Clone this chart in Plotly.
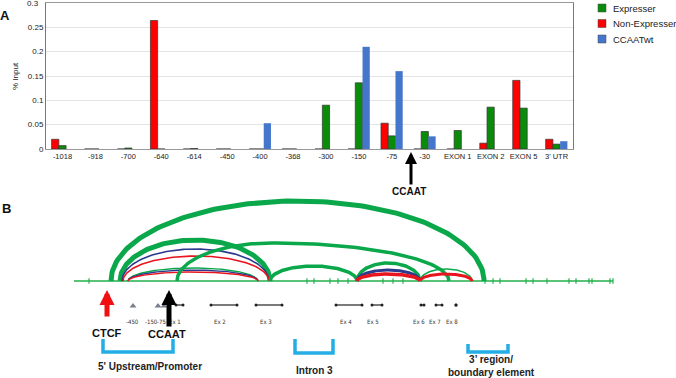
import numpy as np
import plotly.graph_objects as go

# ---------------- Panel A data ----------------
categories = ["-1018", "-918", "-700", "-640", "-614", "-450", "-400", "-368", "-300",
              "-150", "-75", "-30", "EXON 1", "EXON 2", "EXON 5", "3' UTR"]
non_expresser = [0.020, 0, 0, 0.264, 0, 0, 0, 0, 0, 0, 0.053, 0, 0, 0.012, 0.141, 0.020]
expresser = [0.007, 0, 0.002, 0, 0.001, 0, 0, 0, 0.090, 0.136, 0.027, 0.036, 0.038, 0.086, 0.084, 0.010]
ccaat_wt = [0, 0, 0, 0, 0, 0, 0.053, 0, 0, 0.210, 0.160, 0.026, 0, 0, 0, 0.016]
y_ticks = [0, 0.05, 0.1, 0.15, 0.2, 0.25, 0.3]
y_tick_labels = ["0", "0.05", "0.1", "0.15", "0.2", "0.25", "0.3"]
legend_names = ["Expresser", "Non-Expresser", "CCAATwt"]

# ---------------- Panel B data (schematic units) ----------------
gene_start, gene_end = 74, 613
baseline_ticks = [89, 307, 314, 330, 338, 348, 383, 393, 403, 485, 493, 500,
                  526, 533, 547, 569, 576, 589, 592, 610, 613]
arc_start = [111, 120, 122, 123, 128, 128, 128, 177, 270, 357, 357, 357, 420, 420]
arc_peak = [297, 195, 195, 196, 193, 193, 193, 272, 313, 388, 388, 388, 446, 446]
arc_end = [484, 270, 269, 269, 258, 258, 258, 449, 357, 420, 420, 420, 472, 472]
arc_height = [80, 41, 32, 25, 13, 11, 9, 38, 15, 18, 11, 7, 12, 7]
arc_color = ["G", "G", "B", "R", "G", "B", "R", "G", "G", "G", "B", "R", "G", "R"]
arc_width = [5, 5, 1.6, 1.6, 1.4, 1.4, 1.4, 3.5, 3.5, 3.5, 3, 3.5, 1.5, 3]
exon_names = ["Ex 1", "Ex 2", "Ex 3", "Ex 4", "Ex 5", "Ex 6", "Ex 7", "Ex 8"]
exon_start = [176, 211, 256, 336, 372, 421, 436, 456]
exon_end = [183, 237, 282, 362, 382, 424, 442, 456]
exon_label_x = [175, 220, 266, 346, 373, 419, 435, 452]
site_names = ["-450", "-150", "-75"]
site_x = [133, 158, 164]
site_label_x = [132, 151, 161]
region_names = ["5' Upstream/Promoter", "Intron 3", "3’ region/<br>boundary element"]
region_x0 = [103, 295, 468]
region_x1 = [173, 333, 508]
region_top = [339, 339, 344]
region_bottom = [352, 353, 352]
region_label_x = [150, 314, 491]
region_label_y = [366, 370, 366]

GREEN_BAR, RED_BAR, BLUE_BAR = "#0a8c0a", "#ff0000", "#4477cc"
ARC_COLORS = {"G": "#0aa84a", "B": "#2b3a8f", "R": "#e8141e"}
CYAN = "#23aee6"
FONT = "Liberation Sans, Arial, sans-serif"

fig = go.Figure()

# ---- bars ----
fig.add_trace(go.Bar(x=categories, y=non_expresser, name="Non-Expresser",
                     marker=dict(color=RED_BAR, line=dict(color="#333", width=0.7)),
                     showlegend=False, xaxis="x", yaxis="y"))
fig.add_trace(go.Bar(x=categories, y=expresser, name="Expresser",
                     marker=dict(color=GREEN_BAR, line=dict(color="#333", width=0.7)),
                     showlegend=False, xaxis="x", yaxis="y"))
fig.add_trace(go.Bar(x=categories, y=ccaat_wt, name="CCAATwt",
                     marker=dict(color=BLUE_BAR, line=dict(width=0)),
                     showlegend=False, xaxis="x", yaxis="y"))

# ---- manual legend (icons in schematic coordinates) ----
legend_colors = [GREEN_BAR, RED_BAR, BLUE_BAR]
legend_y = [8, 23.5, 39]
fig.add_trace(go.Scatter(x=[602] * 3, y=legend_y, mode="markers",
                         marker=dict(symbol="square", size=8, color=legend_colors,
                                     line=dict(color="#444", width=0.5)),
                         showlegend=False, hoverinfo="skip", xaxis="x2", yaxis="y2"))

# ---- schematic: baseline ----
fig.add_trace(go.Scatter(x=[gene_start, gene_end], y=[281, 281], mode="lines",
                         line=dict(color="#22b04a", width=1.3), showlegend=False,
                         hoverinfo="skip", xaxis="x2", yaxis="y2"))
fig.add_trace(go.Scatter(x=baseline_ticks, y=[281] * len(baseline_ticks), mode="markers",
                         marker=dict(symbol="line-ns", size=4, line=dict(color="#22b04a", width=1.2)),
                         showlegend=False, hoverinfo="skip", xaxis="x2", yaxis="y2"))

# ---- arcs ----
for s, p, e, h, c, w in zip(arc_start, arc_peak, arc_end, arc_height, arc_color, arc_width):
    t1 = np.linspace(np.pi, np.pi / 2, 60)
    t2 = np.linspace(np.pi / 2, 0, 60)
    xs = np.concatenate([p + (p - s) * np.cos(t1), p + (e - p) * np.cos(t2)])
    ys = np.concatenate([281 - h * np.sin(t1), 281 - h * np.sin(t2)])
    fig.add_trace(go.Scatter(x=xs, y=ys, mode="lines",
                             line=dict(color=ARC_COLORS[c], width=w), showlegend=False,
                             hoverinfo="skip", xaxis="x2", yaxis="y2"))

# ---- exons ----
for s, e in zip(exon_start, exon_end):
    fig.add_trace(go.Scatter(x=[s, e], y=[305, 305], mode="lines+markers",
                             line=dict(color="#333", width=1.3),
                             marker=dict(size=3, color="#222"), showlegend=False,
                             hoverinfo="skip", xaxis="x2", yaxis="y2"))
fig.add_trace(go.Scatter(x=site_x, y=[306] * len(site_x), mode="markers",
                         marker=dict(symbol="triangle-up", size=6, color="#7a7f8c"),
                         showlegend=False, hoverinfo="skip", xaxis="x2", yaxis="y2"))

# ---- region brackets ----
for x0, x1, yt, yb in zip(region_x0, region_x1, region_top, region_bottom):
    fig.add_trace(go.Scatter(x=[x0, x0, x1, x1], y=[yt, yb, yb, yt], mode="lines",
                             line=dict(color=CYAN, width=3.5), showlegend=False,
                             hoverinfo="skip", xaxis="x2", yaxis="y2"))

annotations = []
for name, y in zip(legend_names, legend_y):
    annotations.append(dict(x=611, y=y, xref="x2", yref="y2", text=name, showarrow=False,
                            xanchor="left", font=dict(family=FONT, size=9.5, color="#222")))
small_font = dict(family="Liberation Sans Narrow, DejaVu Sans Condensed, Arial", size=6, color="#333")
for name, x in zip(exon_names, exon_label_x):
    annotations.append(dict(x=x, y=321, xref="x2", yref="y2", text=name, showarrow=False, font=small_font))
for name, x in zip(site_names, site_label_x):
    annotations.append(dict(x=x, y=321, xref="x2", yref="y2", text=name, showarrow=False, font=small_font))
for name, x, y in zip(region_names, region_label_x, region_label_y):
    annotations.append(dict(x=x, y=y, xref="x2", yref="y2", text="<b>%s</b>" % name, showarrow=False,
                            font=dict(family=FONT, size=10, color="#222"), yanchor="middle"))

bold = dict(family=FONT, size=11, color="#111")
annotations += [
    dict(x=5, y=15, xref="x2", yref="y2", text="<b>A</b>", showarrow=False,
         font=dict(family=FONT, size=13, color="#111")),
    dict(x=6, y=208, xref="x2", yref="y2", text="<b>B</b>", showarrow=False,
         font=dict(family=FONT, size=13, color="#111")),
    dict(x=107, y=333, xref="x2", yref="y2", text="<b>CTCF</b>", showarrow=False, font=bold),
    dict(x=167, y=334, xref="x2", yref="y2", text="<b>CCAAT</b>", showarrow=False, font=bold),
    dict(x=409, y=191, xref="x2", yref="y2", text="<b>CCAAT</b>", showarrow=False,
         font=dict(family=FONT, size=10, color="#111")),
    dict(x=41, y=3, xref="x2", yref="y2", text="0.3", showarrow=False, xanchor="right",
         font=dict(family=FONT, size=8, color="#222")),
    # arrows
    dict(x=107, y=290, ax=107, ay=318, xref="x2", yref="y2", axref="x2", ayref="y2", text="",
         showarrow=True, arrowhead=2, arrowsize=0.6, arrowwidth=5, arrowcolor="#f01010"),
    dict(x=169, y=290, ax=169, ay=328, xref="x2", yref="y2", axref="x2", ayref="y2", text="",
         showarrow=True, arrowhead=2, arrowsize=0.6, arrowwidth=5, arrowcolor="#000"),
    dict(x=411, y=152, ax=411, ay=186, xref="x2", yref="y2", axref="x2", ayref="y2", text="",
         showarrow=True, arrowhead=2, arrowsize=0.8, arrowwidth=3, arrowcolor="#000"),
    dict(x=15, y=76, xref="x2", yref="y2", text="% Input", textangle=-90, showarrow=False,
         font=dict(family=FONT, size=8, color="#222")),
]

fig.update_layout(
    width=676, height=378,
    margin=dict(l=0, r=0, t=0, b=0, autoexpand=False),
    paper_bgcolor="white", plot_bgcolor="rgba(0,0,0,0)",
    barmode="group", bargap=0.34, bargroupgap=0,
    font=dict(family=FONT, color="#222"),
    showlegend=False,
    xaxis=dict(domain=[46 / 676, 573 / 676], anchor="y", showgrid=False,
               showline=True, mirror=True, linecolor="#999", linewidth=1,
               ticks="", tickfont=dict(size=7.5, color="#222"), automargin=False),
    yaxis=dict(domain=[1 - 149 / 378, 1 - 3 / 378], anchor="x", range=[0, 0.3],
               tickvals=y_ticks[:-1], ticktext=y_tick_labels[:-1], tickfont=dict(size=8, color="#222"),
               showgrid=True, gridcolor="#e3e3e3", gridwidth=1, zeroline=False,
               showline=True, mirror=True, linecolor="#777", linewidth=1, ticks="", automargin=False),
    xaxis2=dict(domain=[0, 1], anchor="y2", range=[0, 676], visible=False, fixedrange=True),
    yaxis2=dict(domain=[0, 1], anchor="x2", range=[378, 0], visible=False, fixedrange=True),
    annotations=annotations,
)

fig.write_html("out.html")
